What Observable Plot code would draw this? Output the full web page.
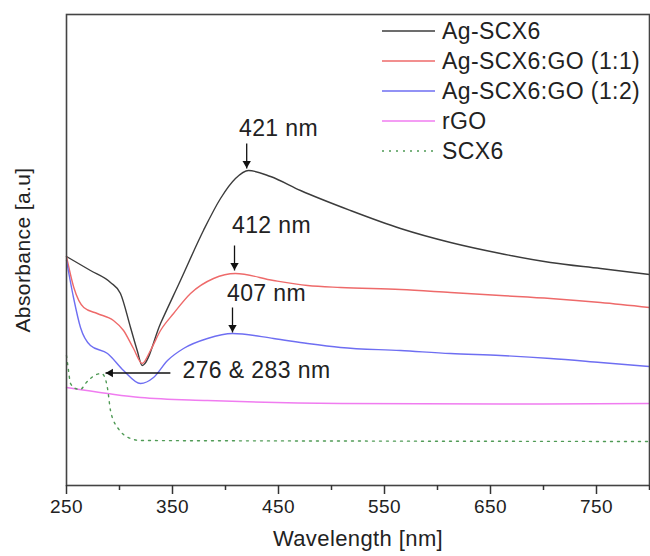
<!DOCTYPE html>
<html><head><meta charset="utf-8">
<script src="https://cdn.jsdelivr.net/npm/d3@7"></script>
<script src="https://cdn.jsdelivr.net/npm/@observablehq/plot@0.6"></script>
<style>
body{margin:0;background:#fff;}
#wrap{position:relative;width:650px;height:556px;font-family:"Liberation Sans",Arial,sans-serif;}
#legend{position:absolute;left:382px;top:16px;}
.row{display:flex;align-items:center;height:30px;font-size:23px;color:#222;letter-spacing:0.4px;white-space:nowrap;}
.row svg{margin-right:7px;display:block}
svg text{letter-spacing:0.4px}
</style></head><body><div id="wrap"><div id="legend"></div></div>
<script>
// ---- data (wavelength in nm, absorbance in arbitrary units) ----
const seriesNames = ["Ag-SCX6", "Ag-SCX6:GO (1:1)", "Ag-SCX6:GO (1:2)", "rGO", "SCX6"];
const seriesColors = ["#3c3c3c", "#ee6a6a", "#6e6ef2", "#f07cf0", "#4f9a55"];

const agWl  = [250, 272.6, 291.5, 300.9, 310.4, 316.7, 321.4, 338.7, 357.5, 379.2, 395.3, 409.4, 421.7, 442.5, 470.8, 517.9, 565.1, 612.3, 659.4, 706.6, 753.8, 800];
const agAbs = [2.29, 2.15, 2.03, 1.92, 1.58, 1.35, 1.20, 1.62, 2.05, 2.55, 2.87, 3.07, 3.15, 3.09, 2.95, 2.75, 2.57, 2.43, 2.32, 2.23, 2.17, 2.11];

const go11Wl  = [250, 256.9, 266.3, 279, 294.3, 303.8, 313.2, 321.4, 329.2, 338.7, 351, 367, 388.7, 409.4, 445.3, 477.4, 508.5, 565.1, 612.3, 659.4, 706.6, 753.8, 800];
const go11Abs = [2.29, 1.98, 1.78, 1.72, 1.65, 1.55, 1.37, 1.22, 1.35, 1.55, 1.72, 1.92, 2.07, 2.12, 2.05, 2.00, 1.98, 1.96, 1.93, 1.90, 1.87, 1.83, 1.78];

const go12Wl  = [250, 256.6, 263.2, 272.6, 288.7, 303.8, 319.8, 332.1, 345.3, 360.4, 383, 406.6, 445.3, 477.4, 508.5, 565.1, 612.3, 659.4, 706.6, 753.8, 800];
const go12Abs = [2.25, 1.88, 1.58, 1.40, 1.32, 1.15, 1.02, 1.08, 1.25, 1.37, 1.47, 1.52, 1.47, 1.42, 1.38, 1.35, 1.32, 1.30, 1.27, 1.23, 1.19];

const rgoWl  = [250, 288.7, 319.8, 383, 508.5, 659.4, 800];
const rgoAbs = [0.98, 0.92, 0.88, 0.85, 0.82, 0.815, 0.82];

const scxWl  = [250, 251.9, 253.8, 258.5, 263.2, 267.9, 272.6, 278.3, 283, 285.8, 288.7, 291.5, 294.3, 298.1, 303.8, 310.4, 319.8, 500, 800];
const scxAbs = [1.30, 1.15, 1.02, 0.97, 0.96, 1.02, 1.07, 1.11, 1.12, 1.09, 0.97, 0.75, 0.65, 0.58, 0.51, 0.47, 0.45, 0.445, 0.44];

const majorTicks = [250, 350, 450, 550, 650, 750];
const minorTicks = [300, 400, 500, 600, 700, 800];

// peak annotations
const peakLabels = ["421 nm", "412 nm", "407 nm"];
const peakTextX  = [450, 443.4, 438.7];
const peakTextY  = [3.57, 2.595, 1.915];
const peakArrowX = [420, 408.5, 406.6];
const peakArrowTop = [3.42, 2.40, 1.78];
const peakArrowTip = [3.17, 2.15, 1.53];

const scxLabel = "276 & 283 nm";
const scxTextX = 359.4, scxTextY = 1.15;
const scxArrowFrom = 348, scxArrowTo = 286.8, scxArrowY = 1.125;

// ---- build tables ----
const wls = [agWl, go11Wl, go12Wl, rgoWl, scxWl];
const abss = [agAbs, go11Abs, go12Abs, rgoAbs, scxAbs];
const rows = [];
seriesNames.forEach((s, i) => wls[i].forEach((w, j) => rows.push({series: s, wl: w, abs: abss[i][j]})));
const peaks = peakLabels.map((l, i) => ({label: l, tx: peakTextX[i], ty: peakTextY[i], ax: peakArrowX[i], a1: peakArrowTop[i], a2: peakArrowTip[i]}));

const font = "Liberation Sans, Arial, sans-serif";
const lineMarks = seriesNames.map((s, i) => Plot.line(rows.filter(r => r.series === s), {
  x: "wl", y: "abs", stroke: seriesColors[i], strokeWidth: 1.4, curve: "monotone-x",
  strokeDasharray: s === "SCX6" ? "2,5" : null
}));

const chart = Plot.plot({
  width: 650, height: 556,
  marginLeft: 66, marginRight: 1, marginTop: 14, marginBottom: 71,
  style: {fontFamily: font, background: "#fff", overflow: "visible"},
  x: {domain: [250, 800]},
  y: {domain: [0, 4.71], axis: null},
  marks: [
    ...lineMarks,
    Plot.frame({stroke: "#444", strokeWidth: 1.6}),
    Plot.axisX({ticks: majorTicks, tickSize: 9, tickPadding: 5, fontSize: 19, stroke: "#333", strokeWidth: 1.5, fill: "#222", label: null, tickFormat: d => String(d)}),
    Plot.axisX({ticks: minorTicks, tickSize: 5, stroke: "#333", strokeWidth: 1.5, label: null, tickFormat: () => ""}),
    Plot.text(["Wavelength [nm]"], {frameAnchor: "bottom", dy: 60, fontSize: 22, fill: "#222", text: d => d}),
    Plot.text(["Absorbance [a.u]"], {frameAnchor: "left", textAnchor: "middle", dx: -43, rotate: -90, fontSize: 21, fill: "#222", text: d => d}),
    // peak annotations
    Plot.link(peaks, {x1: "ax", x2: "ax", y1: "a1", y2: "a2", stroke: "#111", strokeWidth: 1.3}),
    Plot.dot(peaks, {x: "ax", y: "a2", symbol: "triangle", r: 3.1, rotate: 180, dy: -5, fill: "#111", stroke: null}),
    Plot.text(peaks, {x: "tx", y: "ty", text: "label", fontSize: 23, fill: "#222"}),
    Plot.link([0], {x1: () => scxArrowFrom, x2: () => scxArrowTo, y1: () => scxArrowY, y2: () => scxArrowY, stroke: "#111", strokeWidth: 1.3}),
    Plot.dot([0], {x: () => scxArrowTo, y: () => scxArrowY, symbol: "triangle", r: 3.1, rotate: -90, dx: 5, fill: "#111", stroke: null}),
    Plot.text([scxLabel], {x: () => scxTextX, y: () => scxTextY, text: d => d, textAnchor: "start", fontSize: 23, fill: "#222"})
  ]
});
const wrap = document.getElementById("wrap");
wrap.insertBefore(chart, wrap.firstChild);

// legend
const legend = document.getElementById("legend");
seriesNames.forEach((s, i) => {
  const row = document.createElement("div");
  row.className = "row";
  const dash = s === "SCX6" ? ' stroke-dasharray="2,5"' : "";
  row.innerHTML = `<svg width="53" height="30"><line x1="0" x2="53" y1="15" y2="15" stroke="${seriesColors[i]}" stroke-width="1.4"${dash}/></svg><span>${s}</span>`;
  legend.appendChild(row);
});
</script>
</body></html>
